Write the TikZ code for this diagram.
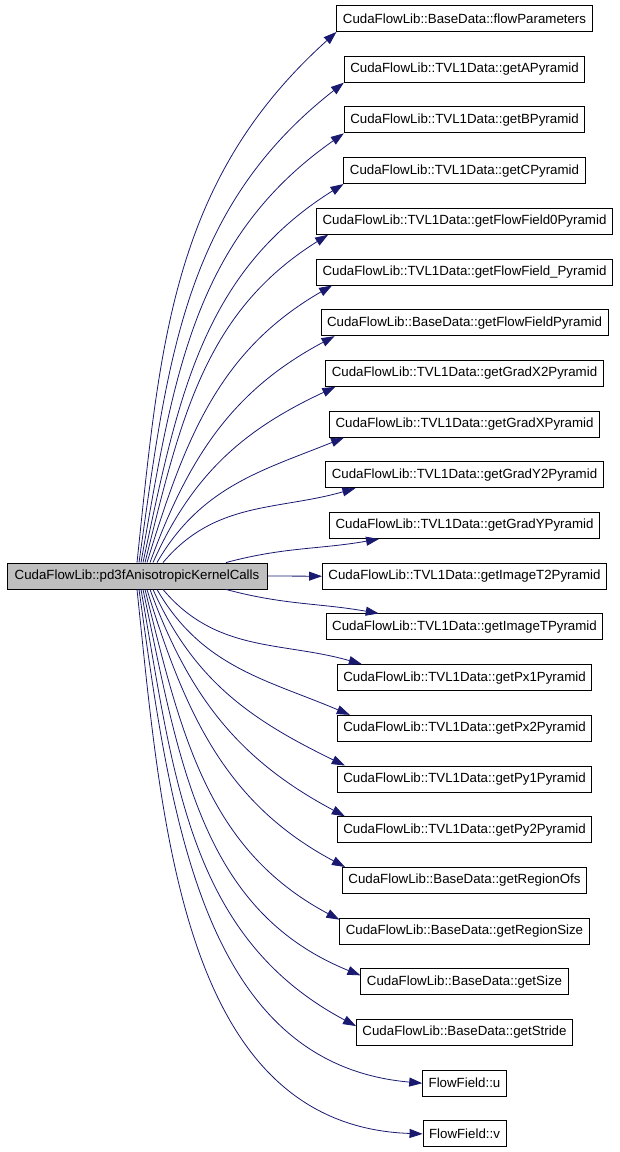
\documentclass[tikz,border=0pt]{standalone}
\usepackage{fontspec}
\setmainfont{Liberation Sans}
\usetikzlibrary{arrows.meta,calc}
\definecolor{edgeblue}{HTML}{191970}
\definecolor{kerngray}{HTML}{BFBFBF}

\begin{document}
\begin{tikzpicture}[x=1pt,y=1pt,>={Triangle[length=13pt,width=9pt]},font=\fontsize{13.3}{15}\selectfont]
\tikzstyle{fn}=[draw,line width=0.9pt,minimum height=26pt,inner xsep=6pt,inner ysep=0pt]
\tikzstyle{call}=[->,edgeblue,line width=0.8pt]
\useasboundingbox (0,0) rectangle (619,-1152);
\node[fn,fill=kerngray,minimum width=260pt] (kern) at (137,-576) {CudaFlowLib::pd3fAnisotropicKernelCalls};
\node[fn] (params) at (464.5,-18.5) {CudaFlowLib::BaseData::flowParameters};
\node[fn] (apyr) at (464.5,-69.2) {CudaFlowLib::TVL1Data::getAPyramid};
\node[fn] (bpyr) at (464.5,-119.9) {CudaFlowLib::TVL1Data::getBPyramid};
\node[fn] (cpyr) at (464.5,-170.6) {CudaFlowLib::TVL1Data::getCPyramid};
\node[fn] (ffzero) at (464.5,-221.3) {CudaFlowLib::TVL1Data::getFlowField0Pyramid};
\node[fn] (ffbar) at (464.5,-272.0) {CudaFlowLib::TVL1Data::getFlowField\_Pyramid};
\node[fn] (ffbase) at (464.5,-322.7) {CudaFlowLib::BaseData::getFlowFieldPyramid};
\node[fn] (gxtwo) at (464.5,-373.4) {CudaFlowLib::TVL1Data::getGradX2Pyramid};
\node[fn] (gx) at (464.5,-424.1) {CudaFlowLib::TVL1Data::getGradXPyramid};
\node[fn] (gytwo) at (464.5,-474.8) {CudaFlowLib::TVL1Data::getGradY2Pyramid};
\node[fn] (gy) at (464.5,-525.5) {CudaFlowLib::TVL1Data::getGradYPyramid};
\node[fn] (imgtwo) at (464.5,-576.2) {CudaFlowLib::TVL1Data::getImageT2Pyramid};
\node[fn] (img) at (464.5,-626.9) {CudaFlowLib::TVL1Data::getImageTPyramid};
\node[fn] (pxone) at (464.5,-677.6) {CudaFlowLib::TVL1Data::getPx1Pyramid};
\node[fn] (pxtwo) at (464.5,-728.3) {CudaFlowLib::TVL1Data::getPx2Pyramid};
\node[fn] (pyone) at (464.5,-779.0) {CudaFlowLib::TVL1Data::getPy1Pyramid};
\node[fn] (pytwo) at (464.5,-829.7) {CudaFlowLib::TVL1Data::getPy2Pyramid};
\node[fn] (rofs) at (464.5,-880.4) {CudaFlowLib::BaseData::getRegionOfs};
\node[fn] (rsize) at (464.5,-931.1) {CudaFlowLib::BaseData::getRegionSize};
\node[fn] (size) at (464.5,-981.8) {CudaFlowLib::BaseData::getSize};
\node[fn] (stride) at (464.5,-1032.5) {CudaFlowLib::BaseData::getStride};
\node[fn] (ffu) at (464.5,-1083.2) {FlowField::u};
\node[fn] (ffv) at (464.5,-1133.9) {FlowField::v};
% calls above
\draw[call] (kern.north) to[out=84,in=222] (params.south west);
\draw[call] ($(kern.north)+(2,0)$) to[out=82,in=218] (apyr.south west);
\draw[call] ($(kern.north)+(4,0)$) to[out=80,in=215] (bpyr.south west);
\draw[call] ($(kern.north)+(6,0)$) to[out=78,in=212] (cpyr.south west);
\draw[call] ($(kern.north)+(8,0)$) to[out=76,in=212] ($(ffzero.south west)+(12,0)$);
\draw[call] ($(kern.north)+(10,0)$) to[out=73,in=210] ($(ffbar.south west)+(16,0)$);
\draw[call] ($(kern.north)+(13,0)$) to[out=70,in=208] ($(ffbase.south west)+(14,0)$);
\draw[call] ($(kern.north)+(16,0)$) to[out=66,in=205] ($(gxtwo.south west)+(10,0)$);
\draw[call] ($(kern.north)+(20,0)$) to[out=60,in=202] ($(gx.south west)+(15,0)$);
\draw[call] ($(kern.north)+(26,0)$) to[out=50,in=196] ($(gytwo.south west)+(30,0)$);
\draw[call] ($(kern.north)+(89,0)$) to[out=15,in=190] ($(gy.south west)+(50,0)$);
\draw[call] (kern.east) -- (imgtwo.west);
% calls below
\draw[call] ($(kern.south)+(89,0)$) to[out=-15,in=170] ($(img.north west)+(53,0)$);
\draw[call] ($(kern.south)+(26,0)$) to[out=-50,in=164] ($(pxone.north west)+(25,0)$);
\draw[call] ($(kern.south)+(20,0)$) to[out=-60,in=157] ($(pxtwo.north west)+(13,0)$);
\draw[call] ($(kern.south)+(16,0)$) to[out=-66,in=154] ($(pyone.north west)+(8,0)$);
\draw[call] ($(kern.south)+(13,0)$) to[out=-70,in=152] ($(pytwo.north west)+(8,0)$);
\draw[call] ($(kern.south)+(10,0)$) to[out=-73,in=152] ($(rofs.north west)+(3,0)$);
\draw[call] ($(kern.south)+(8,0)$) to[out=-76,in=152] ($(rsize.north west)+(0,-2)$);
\draw[call] ($(kern.south)+(6,0)$) to[out=-78,in=158] ($(size.north west)+(0,-7)$);
\draw[call] ($(kern.south)+(4,0)$) to[out=-80,in=152] ($(stride.north west)+(0,-7)$);
\draw[call] ($(kern.south)+(2,0)$) to[out=-82,in=175] (ffu.west);
\draw[call] (kern.south) to[out=-84,in=178] (ffv.west);
\end{tikzpicture}
\end{document}
